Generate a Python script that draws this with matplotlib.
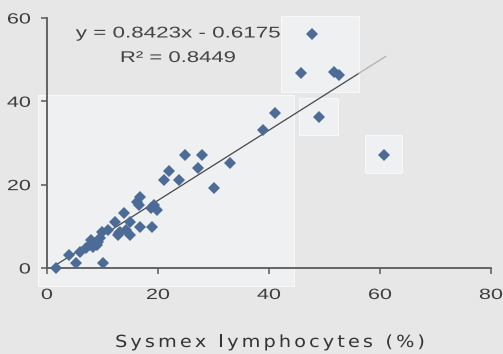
import matplotlib
matplotlib.use("Agg")
import matplotlib.pyplot as plt
from matplotlib.patches import Rectangle
from matplotlib.patheffects import AbstractPathEffect
from matplotlib.transforms import Affine2D, IdentityTransform
from matplotlib.font_manager import FontProperties, findfont, get_font

W, H, DPI = 503, 354, 100

# Sysmex vs. manual lymphocyte counts (%)
sysmex_lymph = [
    1.7, 4.0, 5.2, 5.9, 7.0, 7.7, 8.0, 8.3, 9.0, 9.2, 9.5, 9.9, 10.0, 11.0,
    12.3, 12.8, 12.9, 13.2, 13.9, 14.2, 14.9, 15.0, 16.2, 16.5, 16.8, 16.8,
    18.8, 19.0, 19.2, 19.8, 21.0, 22.0, 23.8, 24.9, 27.2, 27.9, 30.1, 33.0,
    38.9, 41.1, 45.7, 47.8, 49.0, 51.8, 52.6, 60.7,
]
manual_lymph = [
    0.0, 3.1, 1.1, 3.9, 4.7, 5.5, 6.7, 5.1, 5.5, 6.3, 7.1, 8.7, 1.1, 9.1,
    11.1, 7.9, 8.3, 8.7, 13.1, 9.1, 7.9, 11.1, 15.9, 15.1, 17.1, 9.9,
    14.3, 9.9, 15.1, 13.9, 21.1, 23.3, 21.1, 27.1, 23.9, 27.1, 19.1, 25.1,
    33.1, 37.1, 46.9, 56.2, 36.2, 47.0, 46.2, 27.2,
]

# linear fit reported on the chart
slope = 0.8423
intercept = -0.6175
r_squared = 0.8449
fit_x = [1.0, 56.2, 61.0]

x_ticks = [0, 20, 40, 60, 80]
y_ticks = [0, 20, 40, 60]
x_label = "Sysmex lymphocytes (%)"


class StretchX(AbstractPathEffect):
    """Widen glyph outlines horizontally about display x = x0."""

    def __init__(self, sx, x0):
        super().__init__()
        self.sx, self.x0 = sx, x0

    def draw_path(self, renderer, gc, tpath, affine, rgbFace=None):
        wide = affine + Affine2D().translate(-self.x0, 0).scale(self.sx, 1) \
            .translate(self.x0, 0)
        renderer.draw_path(gc, tpath, wide, rgbFace)


def wide_text(fig, x, y, s, size, sx, color, ha="center", track=0.0,
              family="Liberation Sans"):
    """Text at baseline (x, y) in pixels, stretched by sx, optional tracking."""
    prop = FontProperties(family=family, size=size)
    if not track:
        fig.text(x, y, s, ha=ha, va="baseline", fontproperties=prop,
                 color=color, transform=IdentityTransform(),
                 path_effects=[StretchX(sx, x)])
        return
    font = get_font(findfont(prop))
    font.set_size(size, fig.dpi)
    advs = [sx * font.load_char(ord(c)).linearHoriAdvance / 65536 for c in s]
    total = sum(advs) + track * (len(s) - 1)
    pen = {"center": x - total / 2, "right": x - total, "left": x}[ha]
    for c, a in zip(s, advs):
        if not c.isspace():
            cx = pen + a / 2
            fig.text(cx, y, c, ha="center", va="baseline", fontproperties=prop,
                     color=color, transform=IdentityTransform(),
                     path_effects=[StretchX(sx, cx)])
        pen += a + track


fig = plt.figure(figsize=(W / DPI, H / DPI), dpi=DPI)
fig.patch.set_facecolor("#e7e7e7")

# lighter pasted-in panels behind the plot
for x0, y0, x1, y1 in [(38, 95, 294, 286), (281, 16, 359, 92),
                       (299, 98, 338, 135), (365, 135, 402, 173)]:
    fig.patches.append(Rectangle((x0 / W, 1 - y1 / H), (x1 - x0) / W,
                                 (y1 - y0) / H, transform=fig.transFigure,
                                 facecolor="#eef0f2", edgecolor="#f8f8f8",
                                 lw=0.8, zorder=-1))

ax = fig.add_axes([47 / W, 86 / H, 444 / W, 250 / H])
ax.set_facecolor("none")
ax.set_xlim(0, 80)
ax.set_ylim(0, 60)
ax.set_xticks(x_ticks)
ax.set_yticks(y_ticks)
ax.tick_params(direction="out", length=4, width=1.1, color="#5a5a5a",
               labelleft=False, labelbottom=False)
for side in ("top", "right"):
    ax.spines[side].set_visible(False)
for side in ("left", "bottom"):
    ax.spines[side].set_color("#5a5a5a")
    ax.spines[side].set_linewidth(1.3)

# trend line (fades where it runs off the lighter panel)
fy = [slope * v + intercept for v in fit_x]
ax.plot(fit_x[:2], fy[:2], color="#474747", lw=0.9, zorder=2)
ax.plot(fit_x[1:], fy[1:], color="#b5b5b5", lw=1.0, zorder=2)

ax.plot(sysmex_lymph, manual_lymph, linestyle="none", marker="D",
        markersize=6, color="#4d6b97", markeredgewidth=0, zorder=3,
        clip_on=False)

fig.canvas.draw()

tick_color = "#3d3d3d"
for v in x_ticks:
    px = ax.transData.transform((v, 0))[0]
    wide_text(fig, px, H - 299, str(v), 10.7, 1.45, tick_color)
for v in y_ticks:
    py = ax.transData.transform((0, v))[1]
    wide_text(fig, 31, py - 5.5, str(v), 10.7, 1.45, tick_color, ha="right")

wide_text(fig, 177.5, H - 37.5,
          f"y = {slope:.4f}x - {abs(intercept):.4f}", 11.2, 1.44, "#444444")
wide_text(fig, 177.5, H - 62, f"R\u00b2 = {r_squared:.4f}", 11.2, 1.42,
          "#444444")
wide_text(fig, 270, H - 347, x_label, 12, 1.15, "#333333", track=3.2,
          family="DejaVu Sans")

fig.savefig("out.png", dpi=DPI, facecolor=fig.get_facecolor())
